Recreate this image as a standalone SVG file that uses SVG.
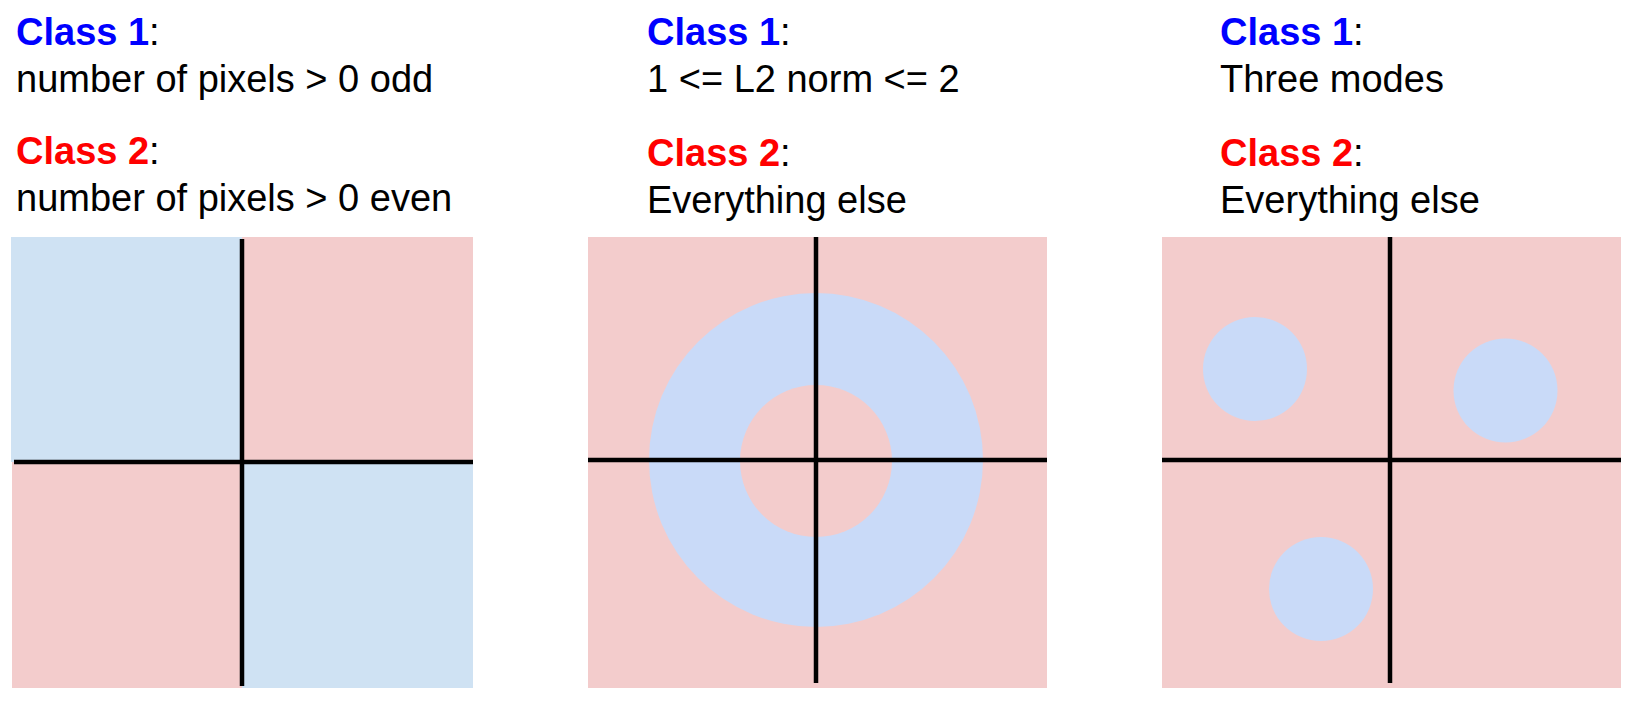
<svg xmlns="http://www.w3.org/2000/svg" width="1635" height="702" viewBox="0 0 1635 702">
<style>
text{font-family:"Liberation Sans",Arial,sans-serif;font-size:38px;fill:#000}
.c1{fill:#0000ff;font-weight:bold}
.c2{fill:#ff0000;font-weight:bold}
.red{fill:#f3cccc}
.blue{fill:#cfe2f3}
.cb{fill:#c9daf8}
.ax{stroke:#000;stroke-width:4.5;fill:none}
</style>
<rect width="1635" height="702" fill="#fff"/>
<g id="panel1">
  <text x="16" y="45"><tspan class="c1">Class 1</tspan>:</text>
  <text x="16" y="92">number of pixels &gt; 0 odd</text>
  <text x="16" y="164"><tspan class="c2">Class 2</tspan>:</text>
  <text x="16" y="211">number of pixels &gt; 0 even</text>
  <rect class="blue" x="11" y="237" width="231" height="225"/>
  <rect class="red" x="242" y="237" width="231" height="225"/>
  <rect class="red" x="12" y="462" width="230" height="226"/>
  <rect class="blue" x="242" y="462" width="231" height="226"/>
</g>
<g id="panel2">
  <text x="647" y="45"><tspan class="c1">Class 1</tspan>:</text>
  <text x="647" y="92">1 &lt;= L2 norm &lt;= 2</text>
  <text x="647" y="166"><tspan class="c2">Class 2</tspan>:</text>
  <text x="647" y="213">Everything else</text>
  <rect class="red" x="588" y="237" width="459" height="451"/>
  <circle class="cb" cx="816" cy="460" r="167"/>
  <circle class="red" cx="816" cy="461" r="76"/>
</g>
<g id="panel3">
  <text x="1220" y="45"><tspan class="c1">Class 1</tspan>:</text>
  <text x="1220" y="92">Three modes</text>
  <text x="1220" y="166"><tspan class="c2">Class 2</tspan>:</text>
  <text x="1220" y="213">Everything else</text>
  <rect class="red" x="1162" y="237" width="459" height="451"/>
  <circle class="cb" cx="1255" cy="369" r="52"/>
  <circle class="cb" cx="1505.5" cy="390.5" r="52"/>
  <circle class="cb" cx="1321" cy="589" r="52"/>
</g>
<g id="connectors">
  <line class="ax" x1="242" y1="239" x2="242" y2="686"/>
  <line class="ax" x1="14" y1="462" x2="473" y2="462"/>
  <line class="ax" x1="816" y1="237" x2="816" y2="683"/>
  <line class="ax" x1="588" y1="460" x2="1047" y2="460"/>
  <line class="ax" x1="1390" y1="237" x2="1390" y2="683"/>
  <line class="ax" x1="1162" y1="460" x2="1621" y2="460"/>
</g>
</svg>
